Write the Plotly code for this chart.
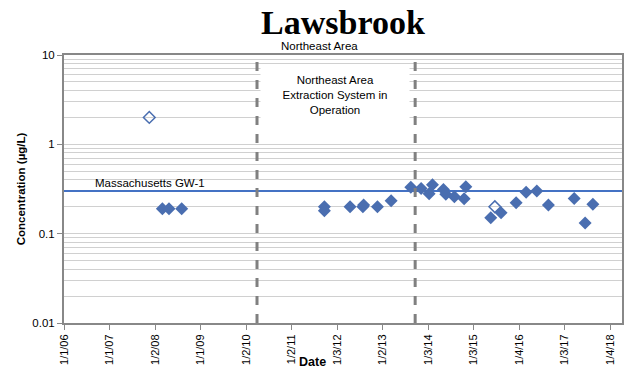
import math
import plotly.graph_objects as go

# Detected samples
det_dates = ["2008-03-01", "2008-04-23", "2008-08-03",
             "2011-09-23", "2011-09-23", "2012-04-16", "2012-07-28", "2012-08-03",
             "2012-11-22", "2013-03-12", "2013-08-17", "2013-11-08", "2014-01-11",
             "2014-02-07", "2014-05-06", "2014-05-25", "2014-08-02", "2014-10-19",
             "2014-11-02", "2015-05-21", "2015-08-12", "2015-12-11", "2016-02-29",
             "2016-05-25", "2016-08-26", "2017-03-21", "2017-06-17", "2017-08-18"]
det_vals = [0.19, 0.19, 0.19,
            0.2, 0.18, 0.2, 0.2, 0.21,
            0.2, 0.233, 0.33, 0.32, 0.28,
            0.353, 0.313, 0.277, 0.259, 0.246,
            0.335, 0.151, 0.171, 0.222, 0.29,
            0.30, 0.21, 0.248, 0.132, 0.213]

# Non-detect samples (hollow)
nd_dates = ["2007-11-17", "2015-06-23"]
nd_vals = [2.0, 0.2]

gw1_standard = 0.3
event_dates = ["2010-03-31", "2013-09-21"]

tick_dates = ["2006-01-01", "2007-01-01", "2008-01-02", "2009-01-01", "2010-01-02",
              "2011-01-02", "2012-01-03", "2013-01-02", "2014-01-03", "2015-01-03",
              "2016-01-04", "2017-01-03", "2018-01-04"]
tick_text = ["1/1/06", "1/1/07", "1/2/08", "1/1/09", "1/2/10", "1/2/11", "1/3/12",
             "1/2/13", "1/3/14", "1/3/15", "1/4/16", "1/3/17", "1/4/18"]

x_range = ["2006-01-01", "2018-04-09"]

blue = "#4A6EB0"
font = "Liberation Sans, Arial, sans-serif"

fig = go.Figure()

# GW-1 standard line as a trace (drawn above gridlines, below markers)
fig.add_trace(go.Scatter(x=x_range, y=[gw1_standard, gw1_standard], mode="lines",
                         line=dict(color="#4472C4", width=2), showlegend=False,
                         hoverinfo="skip"))

fig.add_trace(go.Scatter(x=det_dates, y=det_vals, mode="markers",
                         marker=dict(symbol="diamond", size=10, color=blue),
                         showlegend=False))
fig.add_trace(go.Scatter(x=nd_dates, y=nd_vals, mode="markers",
                         marker=dict(symbol="diamond-open", size=9, color=blue,
                                     line=dict(width=1.5, color=blue)),
                         showlegend=False))

for d in event_dates:
    fig.add_shape(type="line", xref="x", x0=d, x1=d, yref="paper", y0=0, y1=1,
                  line=dict(color="#808080", width=3, dash="dash"), layer="above")

fig.add_annotation(x="2006-08-22", y=math.log10(gw1_standard), xref="x", yref="y",
                   text="Massachusetts GW-1",
                   showarrow=False, xanchor="left", yanchor="bottom", yshift=0,
                   font=dict(family=font, size=11.5, color="black"))
fig.add_annotation(x=0.458, y=1.0, xref="paper", yref="paper", text="Northeast Area",
                   showarrow=False, xanchor="center", yanchor="bottom", yshift=1,
                   font=dict(family=font, size=11.5, color="black"))
fig.add_annotation(x="2011-12-20", y=math.log10(3.6), xref="x", yref="y",
                   text="Northeast Area<br>Extraction System in<br>Operation",
                   showarrow=False, xanchor="center", yanchor="middle",
                   width=142, height=50, bgcolor="white", borderpad=3,
                   font=dict(family=font, size=11.5, color="black"))
fig.add_annotation(x=0.445, y=0, xref="paper", yref="paper", text="<b>Date</b>",
                   showarrow=False, xanchor="center", yanchor="top", yshift=-30,
                   font=dict(family=font, size=12.5, color="black"))

fig.update_layout(
    width=632, height=367,
    margin=dict(l=64, r=10, t=55, b=44, autoexpand=False),
    paper_bgcolor="white", plot_bgcolor="white",
    title=dict(text="<b>Lawsbrook</b>", x=0.5, xanchor="center", xref="paper",
               yref="container", y=0.94, yanchor="middle", automargin=False,
               font=dict(family="Liberation Serif, Times New Roman, serif", size=34, color="black")),
    font=dict(family=font, size=11, color="black"),
)

fig.update_xaxes(type="date", range=x_range, tickvals=tick_dates, ticktext=tick_text,
                 tickangle=-90, ticks="outside", ticklen=5, tickcolor="#888888",
                 showgrid=False, showline=True, linecolor="#888888", linewidth=2,
                 mirror=True, automargin=False, tickfont=dict(family=font, size=11))
fig.update_yaxes(type="log", range=[-2, 1], tickvals=[0.01, 0.1, 1, 10],
                 ticktext=["0.01", "0.1", "1", "10"], ticks="outside", ticklen=5,
                 tickcolor="#888888", showgrid=True, gridcolor="#D0D0D0", gridwidth=1,
                 minor=dict(dtick="D1", showgrid=True, gridcolor="#D0D0D0", ticks=""),
                 showline=True, linecolor="#888888", linewidth=2, mirror=True,
                 automargin=False,
                 title=dict(text="<b>Concentration (µg/L)</b>", standoff=4,
                            font=dict(family=font, size=11.5)),
                 tickfont=dict(family=font, size=11.5))

fig.write_html("out.html", config={"displayModeBar": False},
               post_script="document.body.style.margin='0';document.body.style.overflow='hidden';")
